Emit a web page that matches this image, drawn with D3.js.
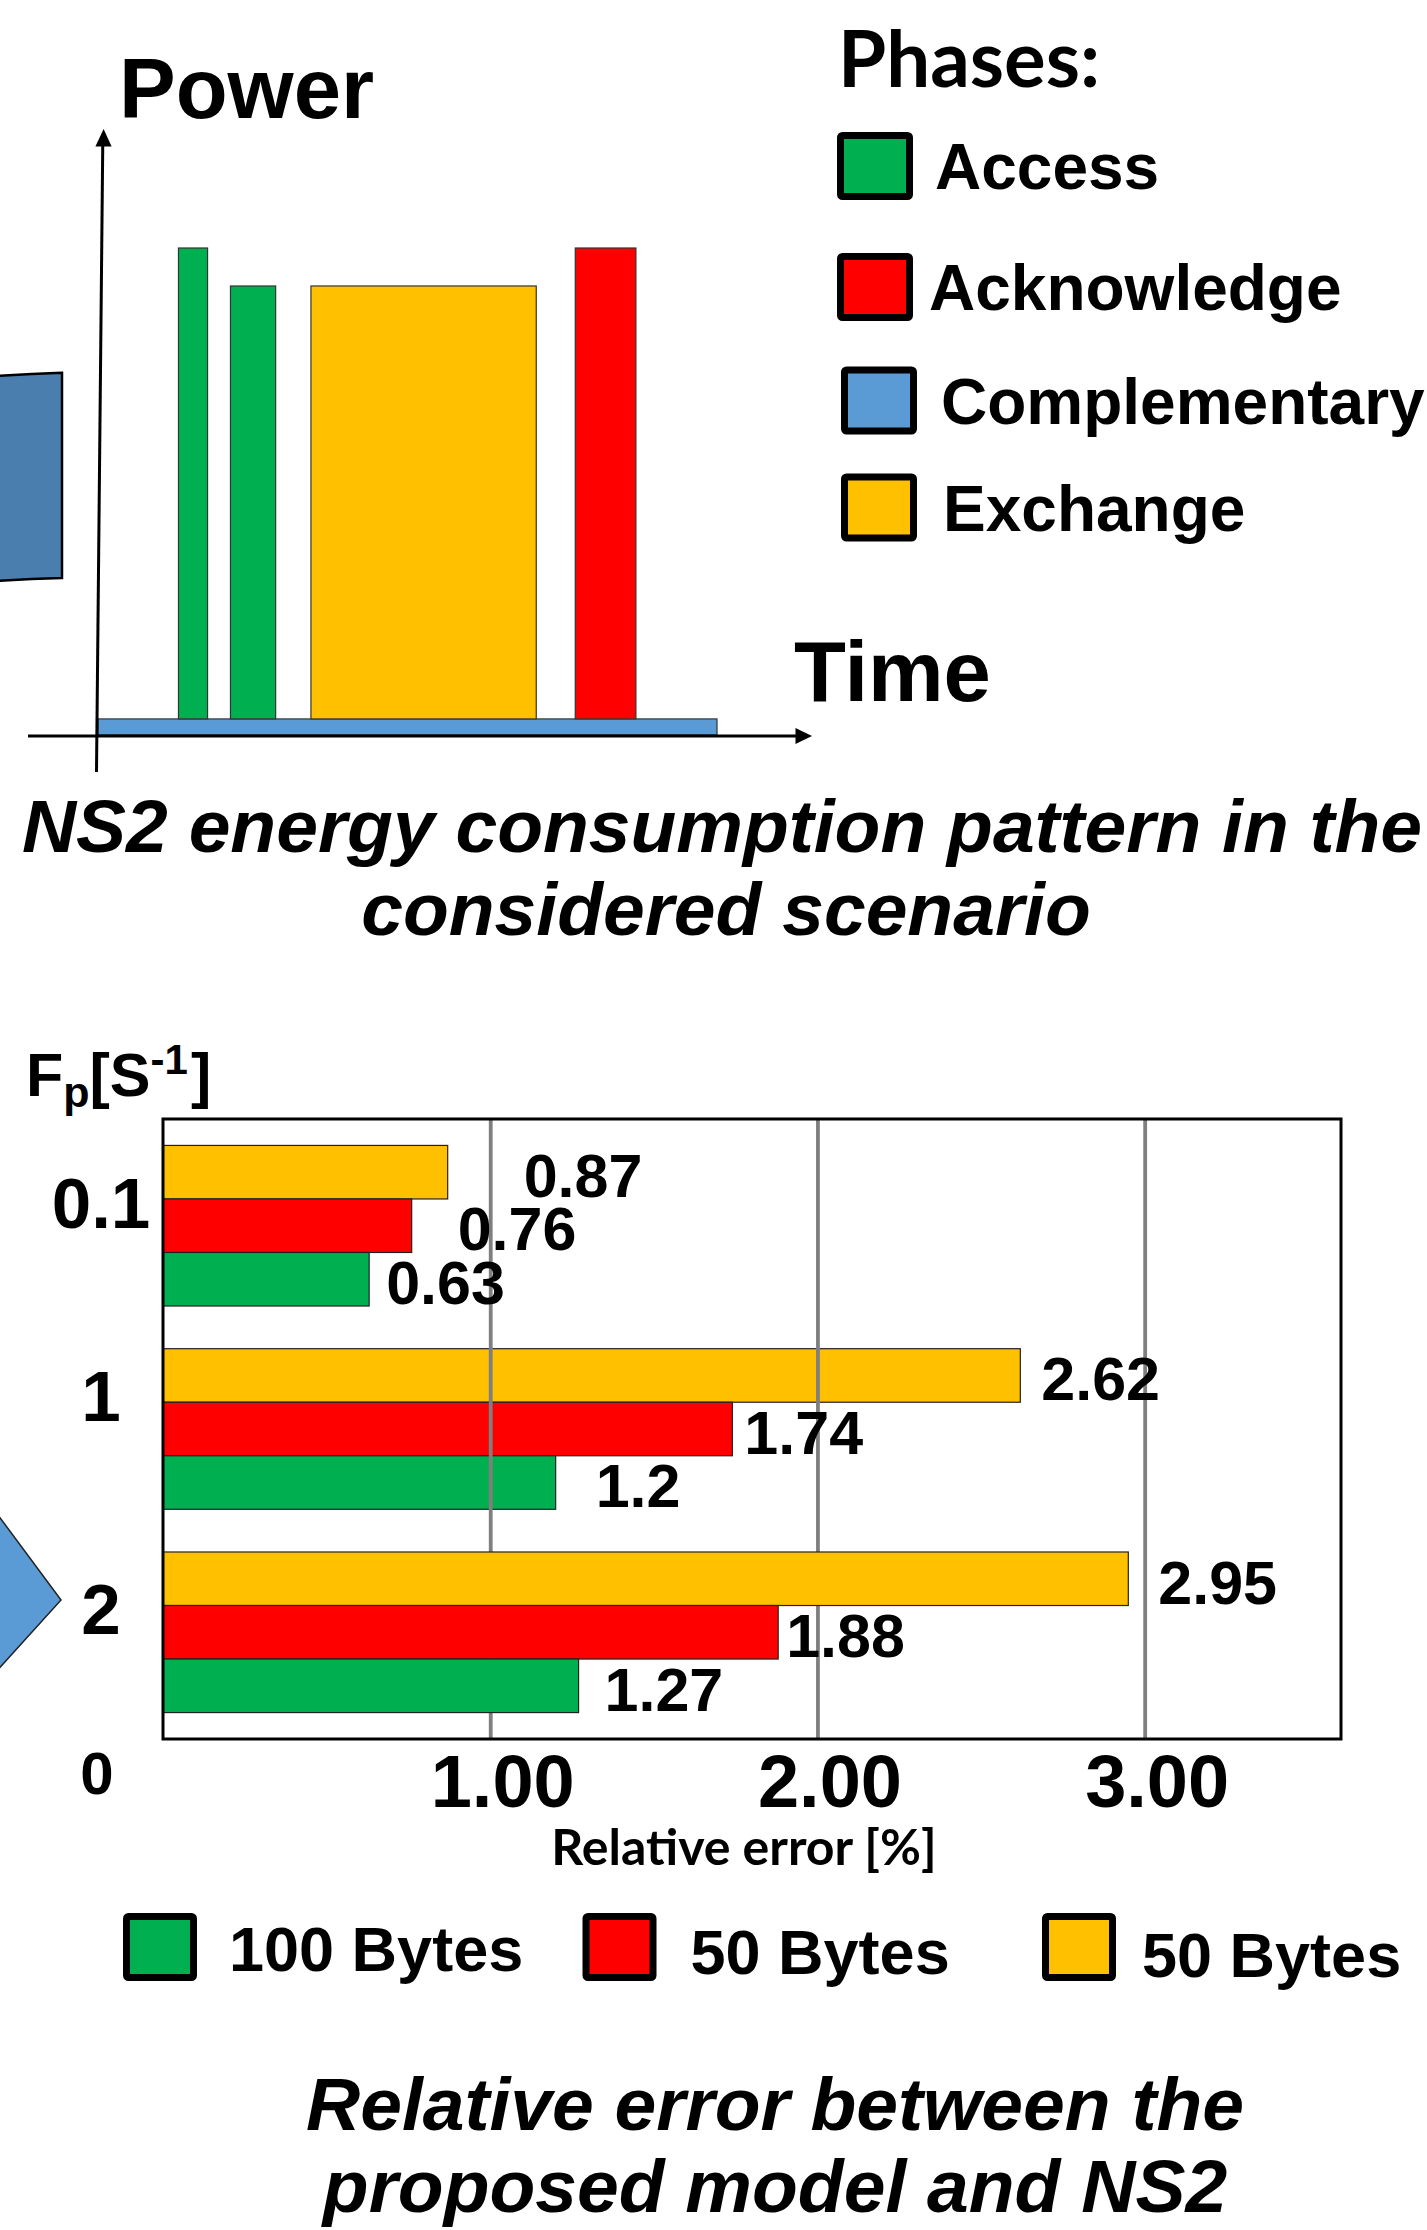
<!DOCTYPE html>
<html>
<head>
<meta charset="utf-8">
<script src="https://cdn.jsdelivr.net/npm/d3@7"></script>
<style>
  body { margin: 0; background: #fff; }
  text { font-family: "Liberation Sans", Arial, sans-serif; font-weight: bold; fill: #000; }
</style>
</head>
<body>
<script>
//canvas
const dims = { width: 1427, height: 2230 };

// ---- top diagram data (time 0-100, power 0-100)
const phaseNames  = ["Access", "Acknowledge", "Complementary", "Exchange"];
const phaseColors = ["#00b050", "#ff0000", "#5b9bd5", "#ffc000"];
const pulsePhase  = ["Complementary", "Access", "Access", "Exchange", "Acknowledge"];
const pulseStart  = [0, 13, 21.4, 34.4, 77.1];
const pulseEnd    = [100, 17.7, 28.7, 70.8, 86.9];
const pulsePower  = [3.3, 100, 92.2, 92.2, 100];
const idlePower   = 3.3;

// ---- bottom chart data
const rates        = ["0.1", "1", "2"];
const seriesKeys   = ["y50", "r50", "g100"];          // top -> bottom inside a group
const seriesLabels = ["50 Bytes", "50 Bytes", "100 Bytes"];
const seriesColors = ["#ffc000", "#ff0000", "#00b050"];
const err50y  = [0.87, 2.62, 2.95];
const err50r  = [0.76, 1.74, 1.88];
const err100g = [0.63, 1.2, 1.27];
const errTicks = [1, 2, 3];
// label nudges (px) copied from the figure, labels were moved by hand there
const nudge50y  = [76, 21, 30];
const nudge50r  = [46, 12, 8];
const nudge100g = [17, 40, 26];
const rateNudge = [0, -10, 0];

const colour = d3.scaleOrdinal().domain(phaseNames).range(phaseColors);

const svg = d3.select("body").append("svg")
    .attr("width", dims.width)
    .attr("height", dims.height);

// decorative blue shapes cut by the left edge
svg.append("path")
    .attr("d", "M-5,376.2 Q30,373.5 62,372.7 L62,578 Q30,578.6 -5,581 Z")
    .attr("fill", "#4a7eae").attr("stroke", "#000").attr("stroke-width", 2.5);
svg.append("path")
    .attr("d", "M-5,1511 L61,1600 L-5,1673 Z")
    .attr("fill", "#5b9bd5").attr("stroke", "#222").attr("stroke-width", 1.5);

// ================= top diagram =================
const tx = d3.scaleLinear().domain([0, 100]).range([98, 717]);
const ty = d3.scaleLinear().domain([0, 100]).range([735, 248]);

const pulses = pulsePhase.map((p, i) => ({
    phase: p, start: pulseStart[i], end: pulseEnd[i], power: pulsePower[i],
    from: p === "Complementary" ? 0 : idlePower
}));

svg.append("g").selectAll("rect").data(pulses).enter()
  .append("rect")
    .attr("x", d => tx(d.start))
    .attr("y", d => ty(d.power))
    .attr("width", d => tx(d.end) - tx(d.start))
    .attr("height", d => ty(d.from) - ty(d.power))
    .attr("fill", d => colour(d.phase))
    .attr("stroke", "#333")
    .attr("stroke-width", 1.2);

// hand drawn axes
svg.append("line").attr("x1", 96.5).attr("y1", 772).attr("x2", 102.8).attr("y2", 140)
    .attr("stroke", "#000").attr("stroke-width", 3);
svg.append("path").attr("d", "M103.6,129 L95.4,146.5 L111.6,146.5 Z").attr("fill", "#000");
svg.append("line").attr("x1", 28).attr("y1", 736).attr("x2", 800).attr("y2", 736)
    .attr("stroke", "#000").attr("stroke-width", 3);
svg.append("path").attr("d", "M812,736 L795.5,728 L795.5,744 Z").attr("fill", "#000");

svg.append("text").attr("x", 119).attr("y", 118).attr("font-size", 85).text("Power");
svg.append("text").attr("x", 794).attr("y", 701).attr("font-size", 85).text("Time");

// phases legend
svg.append("text").attr("x", 838).attr("y", 87)
    .style("font-family", "Lato, 'Open Sans', sans-serif")
    .attr("font-size", 78).text("Phases:");

const legendRows  = [166, 287, 400.5, 507.5];
const legendLeft  = [837, 837, 841, 841];
const legendTextX = [98, 92, 100, 102];
const phaseLeg = svg.append("g").selectAll("g").data(phaseNames).enter()
  .append("g")
    .attr("transform", (d, i) => `translate(${legendLeft[i]}, ${legendRows[i]})`);
phaseLeg.append("rect")
    .attr("x", 3.5).attr("y", -30.5).attr("width", 69).attr("height", 61).attr("rx", 2)
    .attr("fill", d => colour(d)).attr("stroke", "#000").attr("stroke-width", 7);
phaseLeg.append("text")
    .attr("x", (d, i) => legendTextX[i]).attr("y", 23).attr("font-size", 64)
    .text(d => d);

// caption 1
svg.append("text").attr("x", 722).attr("y", 852).attr("text-anchor", "middle")
    .attr("font-size", 75).attr("font-style", "italic")
    .text("NS2 energy consumption pattern in the");
svg.append("text").attr("x", 726).attr("y", 935).attr("text-anchor", "middle")
    .attr("font-size", 75).attr("font-style", "italic")
    .text("considered scenario");

// ================= bottom chart =================
const plot = { left: 163, right: 1341, top: 1119, bottom: 1739 };

const x = d3.scaleLinear().domain([0, 3.6]).range([plot.left, plot.right]);
const y = d3.scaleBand().domain(rates).range([plot.top, plot.bottom])
    .paddingInner(0.21).paddingOuter(0.13);
const ys = d3.scaleBand().domain(seriesKeys).range([0, y.bandwidth()]);
const barColour = d3.scaleOrdinal().domain(seriesKeys).range(seriesColors);

const values = { y50: err50y, r50: err50r, g100: err100g };
const nudges = { y50: nudge50y, r50: nudge50r, g100: nudge100g };
const rows = [];
rates.forEach((r, i) => seriesKeys.forEach(k => rows.push({
    rate: r, key: k, value: values[k][i], nudge: nudges[k][i]
})));

function drawBars(g, data) {
    g.selectAll("rect").data(data).enter()
      .append("rect")
        .attr("x", x(0))
        .attr("y", d => y(d.rate) + ys(d.key))
        .attr("width", d => x(d.value) - x(0))
        .attr("height", ys.bandwidth())
        .attr("fill", d => barColour(d.key))
        .attr("stroke", "#222")
        .attr("stroke-width", 1.2);
}

// in the source the grid runs over the middle group only
drawBars(svg.append("g"), rows.filter(d => d.rate === "1"));

svg.append("g")
    .attr("transform", `translate(0, ${plot.bottom})`)
    .call(d3.axisBottom(x).tickValues(errTicks).tickSize(-(plot.bottom - plot.top)).tickFormat(""))
    .call(g => g.select(".domain").remove())
    .call(g => g.selectAll("line").attr("stroke", "#7f7f7f").attr("stroke-width", 3.8));

drawBars(svg.append("g"), rows.filter(d => d.rate !== "1"));

svg.append("rect")
    .attr("x", plot.left).attr("y", plot.top)
    .attr("width", plot.right - plot.left).attr("height", plot.bottom - plot.top)
    .attr("fill", "none").attr("stroke", "#000").attr("stroke-width", 3);

// value labels
svg.append("g").selectAll("text").data(rows).enter()
  .append("text")
    .attr("x", d => x(d.value) + d.nudge)
    .attr("y", d => y(d.rate) + ys(d.key) + ys.bandwidth() - 2)
    .attr("font-size", 61)
    .text(d => d.value);

// x tick labels
svg.append("g")
    .attr("transform", `translate(0, ${plot.bottom})`)
    .call(d3.axisBottom(x).tickValues(errTicks).tickSize(0).tickFormat(d3.format(".2f")))
    .call(g => g.select(".domain").remove())
    .call(g => g.selectAll("text")
        .attr("y", 68).attr("dy", 0).attr("dx", 12)
        .attr("fill", "#000")
        .style("font-family", "'Liberation Sans', Arial, sans-serif")
        .style("font-weight", "bold")
        .style("font-size", "74px"));

// category labels
svg.append("g").selectAll("text").data(rates).enter()
  .append("text")
    .attr("x", 101)
    .attr("y", (d, i) => y(d) + y.bandwidth() / 2 + 2 + rateNudge[i])
    .attr("text-anchor", "middle")
    .attr("font-size", 71)
    .text(d => d);

svg.append("text").attr("x", 97).attr("y", 1794).attr("text-anchor", "middle")
    .attr("font-size", 60).text("0");

// Fp[S-1]
const fp = svg.append("text").attr("x", 26).attr("y", 1096).attr("font-size", 61);
fp.append("tspan").text("F");
fp.append("tspan").attr("font-size", 43).attr("dy", 11).text("p");
fp.append("tspan").attr("dy", -11).text("[S");
fp.append("tspan").attr("font-size", 42).attr("dy", -22).text("-1");
fp.append("tspan").attr("dy", 22).attr("dx", 3).text("]");

svg.append("text").attr("x", 744).attr("y", 1865).attr("text-anchor", "middle")
    .style("font-family", "Lato, 'Open Sans', sans-serif")
    .attr("font-size", 50).text("Relative error [%]");

// series legend (green, red, yellow)
const legOrder = ["g100", "r50", "y50"];
const legTextX = [106, 108, 100];
const legX = d3.scalePoint().domain(legOrder).range([123, 1042]);
const serLeg = svg.append("g").selectAll("g").data(legOrder).enter()
  .append("g")
    .attr("transform", d => `translate(${legX(d)}, 1913)`);
serLeg.append("rect")
    .attr("x", 3.5).attr("y", 3.5).attr("width", 67).attr("height", 61).attr("rx", 2)
    .attr("fill", d => barColour(d)).attr("stroke", "#000").attr("stroke-width", 7);
serLeg.append("text")
    .attr("x", (d, i) => legTextX[i]).attr("y", (d, i) => 58 + i * 3).attr("font-size", 63)
    .text(d => seriesLabels[seriesKeys.indexOf(d)]);

// caption 2 (pulled up a little so the descenders stay on the page)
svg.append("text").attr("x", 775).attr("y", 2130).attr("text-anchor", "middle")
    .attr("font-size", 75).attr("font-style", "italic")
    .text("Relative error between the");
svg.append("text").attr("x", 775).attr("y", 2212).attr("text-anchor", "middle")
    .attr("font-size", 75).attr("font-style", "italic")
    .text("proposed model and NS2");
</script>
</body>
</html>
